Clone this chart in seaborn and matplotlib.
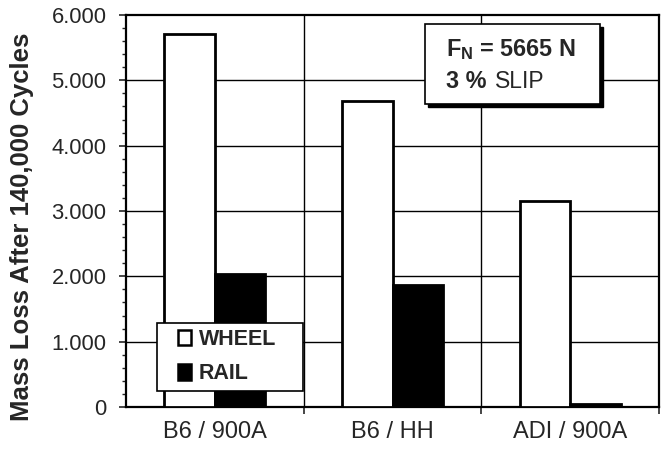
import matplotlib
matplotlib.use("Agg")
import matplotlib.pyplot as plt
import seaborn as sns
import pandas as pd
from matplotlib.patches import Rectangle, Patch
from matplotlib.legend_handler import HandlerPatch
from matplotlib.ticker import FixedLocator, MultipleLocator

categories = ["B6 / 900A", "B6 / HH", "ADI / 900A"]
wheel = [5.71, 4.69, 3.16]
rail = [2.04, 1.87, 0.05]
series = ["WHEEL", "RAIL"]
ytick_vals = [0, 1, 2, 3, 4, 5, 6]
ytick_labels = ["0", "1.000", "2.000", "3.000", "4.000", "5.000", "6.000"]

df = pd.DataFrame({
    "category": categories * 2,
    "series": [series[0]] * 3 + [series[1]] * 3,
    "value": wheel + rail,
})

sns.set_style("white")
plt.rcParams["font.family"] = ["Liberation Sans", "DejaVu Sans"]
plt.rcParams["mathtext.fontset"] = "custom"
plt.rcParams["mathtext.rm"] = "Liberation Sans"
plt.rcParams["mathtext.bf"] = "Liberation Sans:bold"

fig = plt.figure(figsize=(6.69, 4.53), dpi=100)
# axes: x 126..659 px, y 15..407 px
ax = fig.add_axes([126 / 669, (453 - 407) / 453, 533 / 669, 392 / 453])

palette = {"WHEEL": "white", "RAIL": "black"}
sns.barplot(data=df, x="category", y="value", hue="series", palette=palette,
            order=categories, hue_order=series, width=0.57, gap=0,
            edgecolor="black", linewidth=2.0, ax=ax, zorder=3, legend=False)

ax.set_ylim(0, 6)
ax.set_xlim(-0.5, 2.5)

for v in ytick_vals[1:-1]:
    ax.axhline(v, color="black", lw=1.0, zorder=1)
for xb in [0.5, 1.5]:
    ax.axvline(xb, color="black", lw=1.0, zorder=1)

for s in ax.spines.values():
    s.set_color("black")
    s.set_linewidth(1.6)
    s.set_visible(True)

ax.yaxis.set_major_locator(FixedLocator(ytick_vals))
ax.set_yticklabels(ytick_labels, fontsize=15.8)
ax.yaxis.set_minor_locator(MultipleLocator(0.2))
ax.tick_params(axis="y", which="major", direction="out", length=5, width=1.2, pad=9, left=True)
ax.tick_params(axis="y", which="minor", direction="out", length=3, width=1.0, left=True)
ax.xaxis.set_minor_locator(FixedLocator([0.5, 1.5, 2.5]))
ax.tick_params(axis="x", which="major", length=0, pad=10, labelsize=17)
ax.tick_params(axis="x", which="minor", direction="out", length=5, width=1.2, bottom=True)

ax.set_xlabel("")
ax.set_ylabel("Mass Loss After 140,000 Cycles", fontsize=18.5, fontweight="bold")
ax.yaxis.set_label_coords(-0.172, 0.46)

# annotation box with shadow
bx0, by0, bw, bh = 0.561, 0.772, 0.329, 0.205
ax.add_patch(Rectangle((bx0 + 0.0055, by0 - 0.0075), bw, bh, transform=ax.transAxes,
                       facecolor="black", edgecolor="black", zorder=5))
ax.add_patch(Rectangle((bx0, by0), bw, bh, transform=ax.transAxes,
                       facecolor="white", edgecolor="black", lw=1.2, zorder=6))
ax.text(0.6, 0.913, r"F$_{\mathbf{N}}$ = 5665 N", transform=ax.transAxes,
        fontsize=16.8, fontweight="bold", va="center", ha="left", zorder=7)
ax.text(0.6, 0.831, "3 %", transform=ax.transAxes,
        fontsize=16.8, fontweight="bold", va="center", ha="left", zorder=7)
ax.text(0.692, 0.831, "SLIP", transform=ax.transAxes,
        fontsize=16.5, va="center", ha="left", zorder=7)


def square_handle(legend, orig_handle, xdescent, ydescent, width, height, fontsize):
    w = 9.5   # points
    h = 11.0
    return Rectangle((-xdescent + width - w, -ydescent + (height - h) / 2), w, h)


handles = [Patch(facecolor=palette[s], edgecolor="black", lw=1.8, label=s) for s in series]
leg = ax.legend(handles=handles, loc="lower left", bbox_to_anchor=(0.058, 0.041, 0.274, 0.17),
                mode="expand",
                handler_map={Patch: HandlerPatch(patch_func=square_handle)},
                frameon=True, fancybox=False, framealpha=1, edgecolor="black",
                prop={"size": 15.5, "weight": "bold"}, handlelength=1.3, handleheight=0.75,
                handletextpad=0.35, borderpad=0.3, labelspacing=0.62, borderaxespad=0)
leg.get_frame().set_linewidth(1.2)
leg.set_zorder(8)

fig.savefig("out.png", dpi=100)
